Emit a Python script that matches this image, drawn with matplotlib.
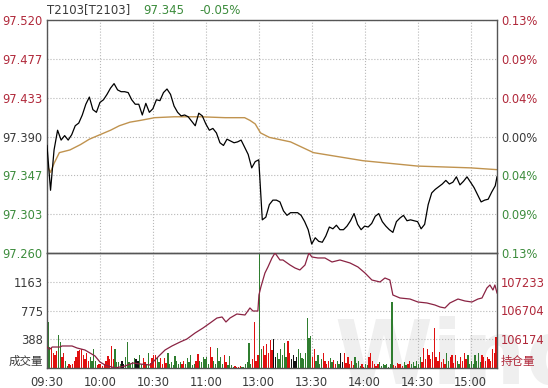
import numpy as np
import matplotlib
matplotlib.use("Agg")
import matplotlib.pyplot as plt

plt.rcParams["font.family"] = ["DejaVu Sans", "Noto Sans CJK SC"]
plt.rcParams["font.size"] = 8.3

RED = "#b0283a"
GREEN = "#3c8c3c"
GREY = "#3a3a3a"

# header
code_text = "T2103[T2103]"
last_text = "97.345"
change_text = "-0.05%"

# axis ticks / labels
time_ticks = [0, 30, 60, 90, 120, 150, 180, 210, 240]
time_labels = ["09:30", "10:00", "10:30", "11:00", "13:00", "13:30", "14:00", "14:30", "15:00"]
price_ticks = [97.260, 97.303, 97.347, 97.390, 97.433, 97.477, 97.520]
pct_labels = ["0.13%", "0.09%", "0.04%", "0.00%", "0.04%", "0.09%", "0.13%"]
vol_ticks = [0, 388, 775, 1163]
vol_labels = ["成交量", "388", "775", "1163"]
oi_ticks = [105644.5, 106174, 106704, 107233]
oi_labels = ["持仓量", "106174", "106704", "107233"]

# price, sampled every 2 minutes (last point = close at minute 255)
price = [
    97.380, 97.330, 97.375, 97.397, 97.386, 97.391, 97.386, 97.392, 97.402, 97.405,
    97.414, 97.426, 97.434, 97.420, 97.417, 97.428, 97.431, 97.437, 97.444, 97.449,
    97.442, 97.440, 97.440, 97.439, 97.431, 97.426, 97.426, 97.414, 97.427, 97.417,
    97.421, 97.431, 97.430, 97.439, 97.443, 97.437, 97.424, 97.417, 97.413, 97.414,
    97.412, 97.407, 97.402, 97.416, 97.413, 97.404, 97.397, 97.399, 97.394, 97.383,
    97.380, 97.387, 97.385, 97.383, 97.384, 97.386, 97.378, 97.370, 97.355, 97.362,
    97.364, 97.297, 97.300, 97.314, 97.319, 97.319, 97.317, 97.307, 97.302, 97.305,
    97.305, 97.305, 97.302, 97.295, 97.286, 97.270, 97.277, 97.273, 97.272, 97.279,
    97.289, 97.287, 97.291, 97.286, 97.286, 97.290, 97.296, 97.304, 97.292, 97.286,
    97.290, 97.289, 97.293, 97.301, 97.304, 97.295, 97.290, 97.286, 97.283, 97.295,
    97.299, 97.302, 97.296, 97.297, 97.296, 97.295, 97.287, 97.292, 97.314, 97.327,
    97.331, 97.334, 97.337, 97.341, 97.337, 97.339, 97.345, 97.336, 97.340, 97.345,
    97.339, 97.333, 97.325, 97.317, 97.319, 97.320, 97.328, 97.335, 97.345,
]

# average price line
avg_t = [0, 2, 4, 7, 13, 19, 24, 30, 36, 41, 47, 53, 61, 72, 87, 101, 112,
         115, 118, 121, 126, 138, 151, 179, 210, 240, 255]
avg_p = [97.358, 97.350, 97.360, 97.372, 97.375, 97.381, 97.387, 97.392, 97.397,
         97.402, 97.406, 97.408, 97.411, 97.412, 97.412, 97.411, 97.411, 97.408,
         97.404, 97.394, 97.389, 97.384, 97.372, 97.363, 97.357, 97.355, 97.353]

# volume per minute
volume = [
    620, 280, 270, 200, 170, 230, 450, 350, 150, 200, 100, 30, 60, 40, 50, 90, 150, 230, 240, 250,
    180, 120, 200, 100, 150, 100, 260, 100, 40, 50, 60, 30, 60, 100, 160, 120, 300, 120, 250, 80,
    80, 50, 100, 60, 150, 350, 80, 60, 80, 130, 120, 100, 170, 60, 130, 80, 40, 200, 70, 140,
    170, 170, 150, 80, 130, 60, 130, 70, 200, 60, 80, 40, 160, 90, 50, 80, 60, 100, 60, 140,
    80, 175, 40, 60, 90, 190, 100, 80, 150, 120, 150, 60, 280, 150, 100, 60, 270, 90, 150, 60,
    180, 80, 40, 160, 40, 20, 30, 10, 20, 30, 10, 20, 50, 80, 340, 60, 120, 620, 100, 180,
    1700, 250, 300, 180, 330, 200, 380, 240, 390, 150, 200, 120, 250, 180, 340, 150, 360, 200, 120, 180,
    100, 150, 260, 200, 130, 120, 200, 675, 400, 430, 150, 250, 100, 180, 60, 120, 200, 90, 60, 100,
    140, 80, 110, 60, 90, 50, 200, 80, 200, 70, 150, 60, 100, 40, 150, 70, 100, 30, 50, 20,
    60, 40, 150, 200, 100, 60, 30, 60, 80, 30, 50, 40, 60, 20, 50, 890, 40, 30, 70, 50,
    60, 30, 80, 40, 60, 90, 50, 80, 30, 100, 60, 150, 80, 270, 120, 250, 180, 120, 220, 540,
    150, 100, 220, 80, 120, 60, 200, 90, 150, 180, 70, 180, 100, 60, 150, 90, 200, 120, 180, 60,
    100, 50, 180, 100, 200, 80, 180, 150, 100, 150, 120, 100, 250, 200, 420,
]

# open interest
oi_t = [0, 1.5, 3, 7.4, 8.5, 14.2, 17, 21.5, 27.2, 30, 32.9, 38.5, 44.2, 48.7, 52.7,
        58.4, 64, 66.9, 70.8, 75.4, 79.3, 83.9, 88.4, 92.4, 96.3, 99.2, 101.4, 103.7,
        107.6, 112.2, 115, 116.7, 119.5, 120.1, 121.2, 123.5, 125.2, 127.5, 129.2,
        132, 133.7, 137.7, 140.5, 143.3, 146.2, 148.4, 150.1, 153.5, 157.5, 161.5,
        166, 171.7, 176.2, 180.2, 184.1, 188.7, 191.5, 194.3, 196, 200, 205.7, 210.2,
        215.3, 219.8, 222.7, 225.5, 228.3, 232.9, 236.8, 240.8, 244.2, 246.5, 249.3,
        251, 252.7, 253.8, 255]
oi_v = [106031, 105990, 106031, 106031, 106050, 106050, 106013, 105976, 105866, 105755,
        105700, 105645, 105681, 105737, 105718, 105700, 105884, 105976, 106050, 106123,
        106179, 106289, 106381, 106473, 106565, 106584, 106492, 106565, 106639, 106621,
        106750, 106694, 106694, 106989, 107137, 107394, 107505, 107671, 107763, 107634,
        107634, 107542, 107487, 107450, 107542, 107763, 107689, 107671, 107671, 107597,
        107634, 107579, 107505, 107394, 107265, 107229, 107302, 107265, 106989, 106934,
        106915, 106860, 106842, 106805, 106768, 106750, 106842, 106915, 106879, 106860,
        106915, 106934, 107118, 107173, 107081, 107173, 107026]

t_price = np.append(np.arange(0, 255, 2), 255)
t_vol = np.arange(len(volume)) + 0.5

# bar colour follows the price move of that interval
dp = np.diff(price)
bar_colors = []
for m in range(len(volume)):
    d = dp[min(m // 2, len(dp) - 1)]
    bar_colors.append("#e01010" if d > 0 else ("#2f7d2f" if d < 0 else "#111111"))

fig = plt.figure(figsize=(5.48, 3.88), dpi=100)
ax_p = fig.add_axes([47 / 548, 1 - 253 / 388, 450 / 548, 233 / 388])
ax_v = fig.add_axes([47 / 548, 1 - 368 / 388, 450 / 548, 115 / 388])

# watermark
fig.text(334 / 548, 1 - 316 / 388, "Wind", fontsize=64, fontweight="bold",
         color="#efefef", va="top", zorder=-5)
ax_p.patch.set_alpha(0)
ax_v.patch.set_alpha(0)

for ax in (ax_p, ax_v):
    ax.set_xlim(0, 255)
    ax.set_xticks(time_ticks)
    ax.tick_params(length=0)
    ax.grid(True, color="#b8b8b8", linestyle=":", linewidth=0.8)
    for s in ax.spines.values():
        s.set_color("#555555")
        s.set_linewidth(1)

# price panel
ax_p.plot(t_price, price, color="black", linewidth=0.9, zorder=3)
ax_p.plot(avg_t, avg_p, color="#c0934f", linewidth=1.0, zorder=2)
ax_p.set_ylim(price_ticks[0], price_ticks[-1])
ax_p.set_yticks(price_ticks)
ax_p.set_yticklabels([f"{v:.3f}" for v in price_ticks])
ax_p.set_xticklabels([])
mid = len(price_ticks) // 2
lab_cols = [GREEN] * mid + [GREY] + [RED] * mid
for lab, c in zip(ax_p.get_yticklabels(), lab_cols):
    lab.set_color(c)
ax_p.tick_params(axis="y", pad=3)

ax_pr = ax_p.twinx()
ax_pr.set_ylim(price_ticks[0], price_ticks[-1])
ax_pr.set_yticks(price_ticks)
ax_pr.set_yticklabels(pct_labels)
ax_pr.tick_params(length=0, pad=3)
for lab, c in zip(ax_pr.get_yticklabels(), lab_cols):
    lab.set_color(c)
for s in ax_pr.spines.values():
    s.set_visible(False)

# volume panel
ax_v.bar(t_vol, volume, width=0.75, color=bar_colors, linewidth=0, zorder=2)
ax_v.set_ylim(0, 1551)
ax_v.set_yticks(vol_ticks)
ax_v.set_yticklabels(vol_labels, color=GREY)
ax_v.get_yticklabels()[0].set_verticalalignment("bottom")
ax_v.set_xticklabels(time_labels, color=GREY)
ax_v.tick_params(axis="x", pad=6)
ax_v.tick_params(axis="y", pad=3)

ax_oi = ax_v.twinx()
ax_oi.plot(oi_t, oi_v, color="#8a2343", linewidth=0.9, zorder=3)
ax_oi.set_ylim(oi_ticks[0], oi_ticks[0] + 4 * 529.5)
ax_oi.set_yticks(oi_ticks)
ax_oi.set_yticklabels(oi_labels, color=RED)
ax_oi.get_yticklabels()[0].set_verticalalignment("bottom")
ax_oi.tick_params(length=0, pad=3)
for s in ax_oi.spines.values():
    s.set_visible(False)

# header
fig.text(47 / 548, 1 - 10 / 388, code_text, color=GREY, va="center", fontsize=8.5)
fig.text(143 / 548, 1 - 10 / 388, last_text, color=GREEN, va="center", fontsize=8.5)
fig.text(199 / 548, 1 - 10 / 388, change_text, color=GREEN, va="center", fontsize=8.5)

fig.savefig("out.png", dpi=100)
